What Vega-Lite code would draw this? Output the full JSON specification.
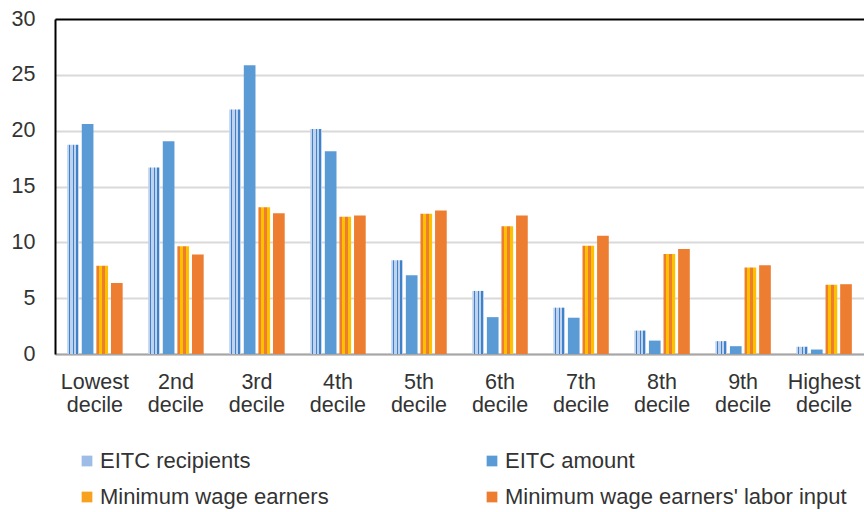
{
  "$schema": "https://vega.github.io/schema/vega-lite/v6.json",
  "width": 809,
  "height": 335,
  "autosize": {"type": "none"},
  "padding": {"left": 55, "top": 19, "right": 0, "bottom": 158},
  "background": "white",
  "config": {"view": {"stroke": null}, "font": "Liberation Sans"},
  "data": {
    "values": [
      {"decile": "Lowest decile", "series": "EITC recipients", "value": 18.75},
      {"decile": "Lowest decile", "series": "EITC amount", "value": 20.6},
      {"decile": "Lowest decile", "series": "Minimum wage earners", "value": 7.9},
      {"decile": "Lowest decile", "series": "Minimum wage earners' labor input", "value": 6.35},
      {"decile": "2nd decile", "series": "EITC recipients", "value": 16.7},
      {"decile": "2nd decile", "series": "EITC amount", "value": 19.05},
      {"decile": "2nd decile", "series": "Minimum wage earners", "value": 9.65},
      {"decile": "2nd decile", "series": "Minimum wage earners' labor input", "value": 8.9},
      {"decile": "3rd decile", "series": "EITC recipients", "value": 21.9},
      {"decile": "3rd decile", "series": "EITC amount", "value": 25.85},
      {"decile": "3rd decile", "series": "Minimum wage earners", "value": 13.15},
      {"decile": "3rd decile", "series": "Minimum wage earners' labor input", "value": 12.6},
      {"decile": "4th decile", "series": "EITC recipients", "value": 20.15},
      {"decile": "4th decile", "series": "EITC amount", "value": 18.15},
      {"decile": "4th decile", "series": "Minimum wage earners", "value": 12.3},
      {"decile": "4th decile", "series": "Minimum wage earners' labor input", "value": 12.4},
      {"decile": "5th decile", "series": "EITC recipients", "value": 8.4},
      {"decile": "5th decile", "series": "EITC amount", "value": 7.05},
      {"decile": "5th decile", "series": "Minimum wage earners", "value": 12.55},
      {"decile": "5th decile", "series": "Minimum wage earners' labor input", "value": 12.85},
      {"decile": "6th decile", "series": "EITC recipients", "value": 5.65},
      {"decile": "6th decile", "series": "EITC amount", "value": 3.3},
      {"decile": "6th decile", "series": "Minimum wage earners", "value": 11.45},
      {"decile": "6th decile", "series": "Minimum wage earners' labor input", "value": 12.4},
      {"decile": "7th decile", "series": "EITC recipients", "value": 4.15},
      {"decile": "7th decile", "series": "EITC amount", "value": 3.25},
      {"decile": "7th decile", "series": "Minimum wage earners", "value": 9.7},
      {"decile": "7th decile", "series": "Minimum wage earners' labor input", "value": 10.6},
      {"decile": "8th decile", "series": "EITC recipients", "value": 2.1},
      {"decile": "8th decile", "series": "EITC amount", "value": 1.2},
      {"decile": "8th decile", "series": "Minimum wage earners", "value": 8.95},
      {"decile": "8th decile", "series": "Minimum wage earners' labor input", "value": 9.4},
      {"decile": "9th decile", "series": "EITC recipients", "value": 1.15},
      {"decile": "9th decile", "series": "EITC amount", "value": 0.7},
      {"decile": "9th decile", "series": "Minimum wage earners", "value": 7.75},
      {"decile": "9th decile", "series": "Minimum wage earners' labor input", "value": 7.95},
      {"decile": "Highest decile", "series": "EITC recipients", "value": 0.65},
      {"decile": "Highest decile", "series": "EITC amount", "value": 0.4},
      {"decile": "Highest decile", "series": "Minimum wage earners", "value": 6.2},
      {"decile": "Highest decile", "series": "Minimum wage earners' labor input", "value": 6.25}
    ]
  },
  "mark": {"type": "bar"},
  "encoding": {
    "x": {
      "field": "decile",
      "type": "nominal",
      "sort": ["Lowest decile", "2nd decile", "3rd decile", "4th decile", "5th decile", "6th decile", "7th decile", "8th decile", "9th decile", "Highest decile"],
      "scale": {"paddingInner": 0.315, "paddingOuter": 0.15},
      "axis": {
        "title": null,
        "labelAngle": 0,
        "labelExpr": "split(datum.label, ' ')",
        "labelFontSize": 21.5,
        "labelColor": "#333333",
        "labelLineHeight": 23,
        "labelPadding": 17,
        "labelOverlap": false,
        "labelBound": false,
        "ticks": false,
        "domainColor": "#a6a6a6",
        "domainWidth": 2
      }
    },
    "xOffset": {
      "field": "series",
      "type": "nominal",
      "sort": ["EITC recipients", "EITC amount", "Minimum wage earners", "Minimum wage earners' labor input"],
      "scale": {"paddingInner": 0.2}
    },
    "y": {
      "field": "value",
      "type": "quantitative",
      "scale": {"domain": [0, 30], "nice": false},
      "axis": {
        "title": null,
        "values": [0, 5, 10, 15, 20, 25, 30],
        "ticks": false,
        "domainColor": "black",
        "domainWidth": 2,
        "labelFontSize": 21.5,
        "labelColor": "#333333",
        "labelPadding": 20,
        "gridColor": {"condition": {"test": "datum.value === 30", "value": "black"}, "value": "#d9d9d9"},
        "gridWidth": 2
      }
    },
    "color": {
      "field": "series",
      "type": "nominal",
      "scale": {
        "domain": ["EITC recipients", "EITC amount", "Minimum wage earners", "Minimum wage earners' labor input"],
        "range": ["#9dbde6", "#5b9bd5", "#f7a11f", "#ed7d31"]
      },
      "condition": [
        {
          "test": "datum.series === 'EITC recipients'",
          "value": {
            "gradient": "linear", "x1": 0, "y1": 0, "x2": 1, "y2": 0,
            "stops": [
              {"offset": 0, "color": "#bfd3ee"}, {"offset": 0.14, "color": "#bfd3ee"},
              {"offset": 0.14, "color": "#3f82c9"}, {"offset": 0.26, "color": "#3f82c9"},
              {"offset": 0.26, "color": "#bfd3ee"}, {"offset": 0.46, "color": "#bfd3ee"},
              {"offset": 0.46, "color": "#3f82c9"}, {"offset": 0.58, "color": "#3f82c9"},
              {"offset": 0.58, "color": "#bfd3ee"}, {"offset": 0.78, "color": "#bfd3ee"},
              {"offset": 0.78, "color": "#3f82c9"}, {"offset": 0.9, "color": "#3f82c9"},
              {"offset": 0.9, "color": "#bfd3ee"}, {"offset": 1, "color": "#bfd3ee"}
            ]
          }
        },
        {
          "test": "datum.series === 'Minimum wage earners'",
          "value": {
            "gradient": "linear", "x1": 0, "y1": 0, "x2": 1, "y2": 0,
            "stops": [
              {"offset": 0, "color": "#ed7d31"}, {"offset": 0.25, "color": "#ed7d31"},
              {"offset": 0.25, "color": "#ffc000"}, {"offset": 0.5, "color": "#ffc000"},
              {"offset": 0.5, "color": "#ed7d31"}, {"offset": 0.75, "color": "#ed7d31"},
              {"offset": 0.75, "color": "#ffc000"}, {"offset": 1, "color": "#ffc000"}
            ]
          }
        }
      ],
      "legend": {
        "orient": "none",
        "legendX": 21,
        "legendY": 431,
        "direction": "horizontal",
        "columns": 2,
        "title": null,
        "symbolType": "square",
        "symbolSize": 115,
        "symbolStrokeWidth": 0,
        "labelFontSize": 22,
        "labelColor": "#333333",
        "labelOffset": 2,
        "labelLimit": 450,
        "columnPadding": 152,
        "rowPadding": 14
      }
    }
  }
}
